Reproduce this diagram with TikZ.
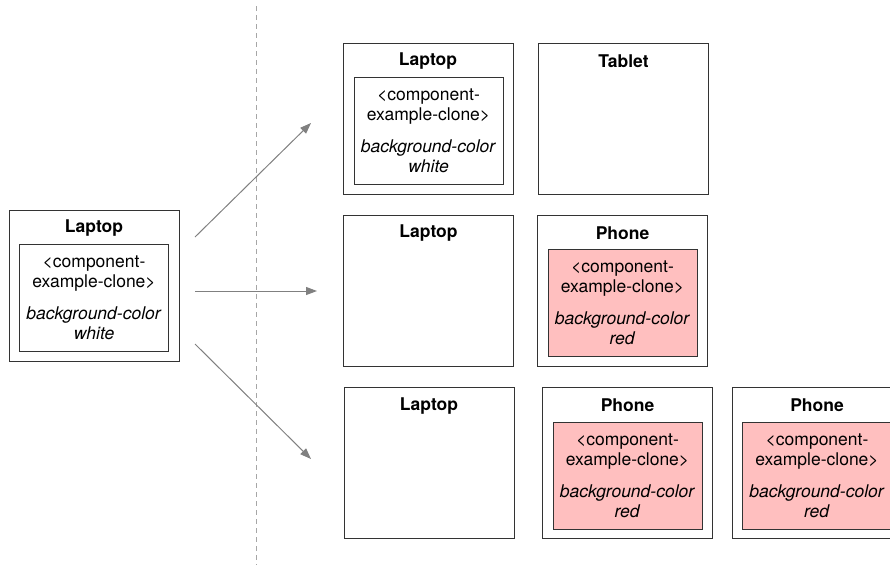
\documentclass[tikz,border=0pt]{standalone}
\usepackage{fontspec}
\setmainfont{TeX Gyre Heros}
\usetikzlibrary{arrows.meta}
\definecolor{clonered}{HTML}{FFBFBF}
\definecolor{boxline}{HTML}{333333}
\tikzset{
  devbox/.style={draw=boxline, line width=1pt, minimum width=170pt, minimum height=151pt, inner sep=0pt},
  devtitle/.style={font=\fontsize{17.5}{20}\selectfont\bfseries, inner sep=0pt},
  clonebox/.style={draw=boxline, line width=1pt, minimum width=149pt, minimum height=107pt, inner sep=0pt, align=center, font=\fontsize{17.5}{20}\selectfont},
  flow/.style={draw=gray, line width=1pt, -{Triangle[length=11pt,width=8pt]}}
}
\newcommand{\clonetext}[1]{{<}component-\\example-clone{>}\\[12pt]\textit{background-color}\\\textit{#1}}
\begin{document}
\begin{tikzpicture}[x=1pt, y=-1pt]
                \useasboundingbox (0,0) rectangle (890,565);
                \clip (0,0) rectangle (890,565);
                \draw[gray!70, line width=1pt, dash pattern=on 5pt off 4pt] (256,6) -- (256,565);
                % source
                \node[devbox] (srcbox) at (94,285.5) {};
                \node[devtitle] (srctitle) at (94,228) {Laptop};
                \node[clonebox, fill=white] (srcclone) at (94,297.5) {\clonetext{white}};
                % first row
                \node[devbox] (lapA) at (428,118.5) {};
                \node[devtitle] (lapAtitle) at (428,61) {Laptop};
                \node[clonebox] (lapAclone) at (428.5,131) {\clonetext{white}};
                \node[devbox] (tabA) at (623.5,118.5) {};
                \node[devtitle] (tabAtitle) at (623.5,61) {Tablet};
                % second row
                \node[devbox] (lapB) at (428.5,290.5) {};
                \node[devtitle] (lapBtitle) at (428.5,233) {Laptop};
                \node[devbox] (phoB) at (622.5,290.5) {};
                \node[devtitle] (phoBtitle) at (622.5,233) {Phone};
                \node[clonebox, fill=clonered] (phoBclone) at (622.5,302.5) {\clonetext{red}};
                % third row
                \node[devbox] (lapC) at (429,463) {};
                \node[devtitle] (lapCtitle) at (429,406) {Laptop};
                \node[devbox] (phoC) at (627.5,462.5) {};
                \node[devtitle] (phoCtitle) at (627.5,405.5) {Phone};
                \node[clonebox, fill=clonered] (phoCclone) at (627.5,475.5) {\clonetext{red}};
                \node[devbox] (phoD) at (817,462.5) {};
                \node[devtitle] (phoDtitle) at (817,405.5) {Phone};
                \node[clonebox, fill=clonered] (phoDclone) at (817,475.5) {\clonetext{red}};
                % arrows
                \coordinate (upstart) at (195,237);
                \coordinate (upend) at (311,123);
                \coordinate (midstart) at (195,291);
                \coordinate (midend) at (317,291);
                \coordinate (lowstart) at (195,344);
                \coordinate (lowend) at (311,459);
                \draw[flow] (upstart) -- (upend);
                \draw[flow] (midstart) -- (midend);
                \draw[flow] (lowstart) -- (lowend);
                \end{tikzpicture}
\end{document}
